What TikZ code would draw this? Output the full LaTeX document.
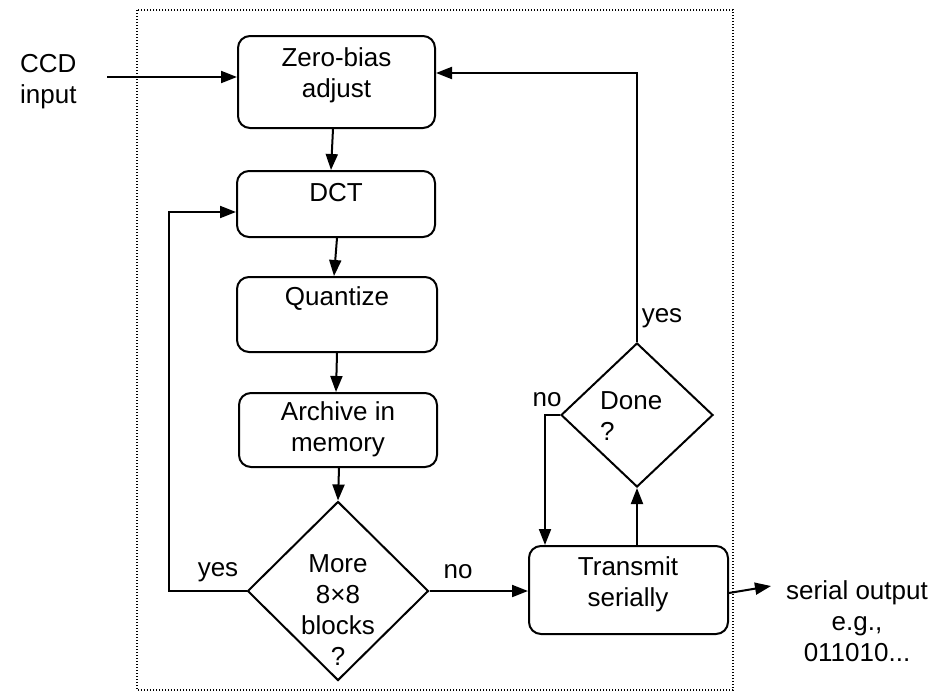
\documentclass[tikz,border=0pt]{standalone}
\usepackage{fontspec}
\setmainfont{Liberation Sans}
\usetikzlibrary{arrows.meta,shapes.geometric}
\begin{document}
\begin{tikzpicture}[x=1pt,y=-1pt,
  every node/.style={font=\fontsize{26}{31}\selectfont},
  box/.style={draw, line width=2pt, rounded corners=12pt, inner sep=0pt},
  dia/.style={draw, line width=2pt, diamond, inner sep=0pt, aspect=1},
  conn/.style={line width=2pt},
  arr/.style={conn, -{Triangle[length=16pt,width=12pt]}},
  txt/.style={align=center, inner sep=0pt},
  frame/.style={line width=1.2pt, dash pattern=on 1.2pt off 1.8pt}]
\useasboundingbox (0,0) rectangle (948,696);
% frame
\draw[frame] (137,10) rectangle (733,690);
% boxes
\node[box, minimum width=197pt, minimum height=92pt] (zb) at (336.5,82) {};
\node[txt] (zbt) at (336.5,75.5) {Zero-bias\\adjust};
\node[box, minimum width=198pt, minimum height=66pt] (dct) at (336,204) {};
\node[txt] (dctt) at (336,193) {DCT};
\node[box, minimum width=200pt, minimum height=75pt] (qz) at (337,314.5) {};
\node[txt] (qzt) at (337,299) {Quantize};
\node[box, minimum width=198pt, minimum height=74pt] (ar) at (338,430) {};
\node[txt] (art) at (338,429.5) {Archive in\\memory};
\node[dia, minimum width=181pt, minimum height=179pt] (more) at (338,591) {};
\node[txt] (moret) at (338,610) {More\\8×8\\blocks\\?};
\node[box, minimum width=199pt, minimum height=88pt] (tx) at (628.5,590) {};
\node[txt] (txt1) at (628,584) {Transmit\\serially};
\node[dia, minimum width=152pt, minimum height=144pt] (done) at (637,415) {};
\node[txt, align=left, anchor=west] (donet) at (600,416) {Done\\?};
% outside texts
\node[txt, align=left, anchor=west] (ccd) at (20,81.5) {CCD\\input};
\node[txt] (serial) at (857,621) {serial output\\e.g.,\\011010...};
% labels
\node[txt] (lyes1) at (218,572) {yes};
\node[txt] (lno1) at (458,572) {no};
\node[txt] (lno2) at (547,400) {no};
\node[txt] (lyes2) at (662,318) {yes};
% connectors
\coordinate (ccdin) at (107,77);
\draw[arr] (ccdin) -- (ccdin -| zb.west);
\draw[arr] ([xshift=-3.5pt]zb.south) -- ([xshift=-5pt]dct.north);
\draw[arr] ([xshift=1pt]dct.south) -- ([xshift=-3pt]qz.north);
\draw[arr] (qz.south) -- ([xshift=-2pt]ar.north);
\draw[arr] ([xshift=1pt]ar.south) -- (more.north);
\coordinate (yl) at (169,212);
\draw[arr] (more.west) -- (more.west -| yl) -- (yl) -- (yl -| dct.west);
\draw[arr] (more.east) -- (more.east -| tx.west);
\draw[arr] (done.south |- tx.north) -- (done.south);
\draw[arr] (done.west) -- ++(-15,0) coordinate (nc) -- (nc |- tx.north);
\coordinate (yt) at (637,73);
\draw[arr] (done.north) -- (yt) -- (yt -| zb.east);
\coordinate (serialend) at (771,586);
\draw[arr] ([yshift=-3pt]tx.east) -- (serialend);
\end{tikzpicture}
\end{document}
